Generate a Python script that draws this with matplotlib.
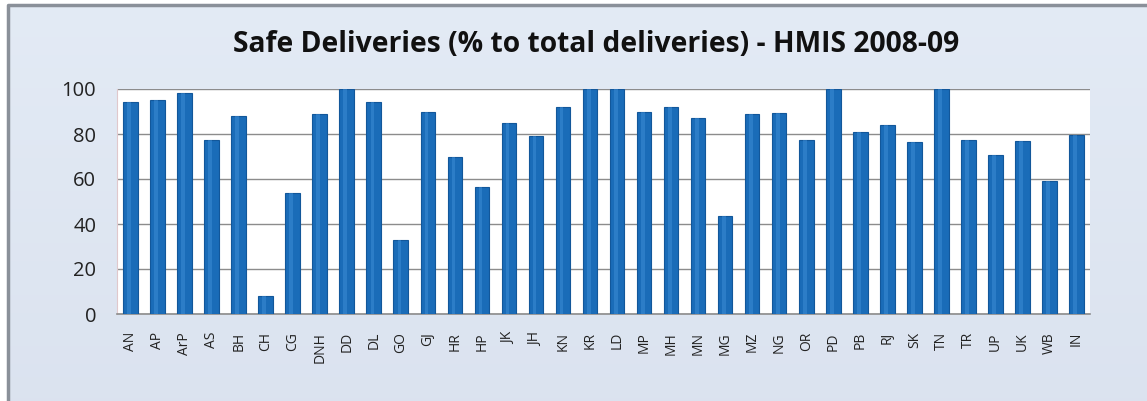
import matplotlib
matplotlib.use("Agg")
import matplotlib.pyplot as plt
import numpy as np

categories = ["AN", "AP", "ArP", "AS", "BH", "CH", "CG", "DNH", "DD", "DL", "GO", "GJ",
              "HR", "HP", "JK", "JH", "KN", "KR", "LD", "MP", "MH", "MN", "MG", "MZ",
              "NG", "OR", "PD", "PB", "RJ", "SK", "TN", "TR", "UP", "UK", "WB", "IN"]
values = [94.4, 95.0, 98.1, 77.3, 88.1, 8.0, 53.9, 88.7, 100.0, 94.4, 33.0, 89.6,
          69.6, 56.6, 84.7, 79.3, 92.1, 100.0, 100.0, 89.6, 92.1, 87.0, 43.7, 88.7,
          89.2, 77.2, 100.0, 81.0, 84.1, 76.6, 100.0, 77.2, 70.7, 76.7, 59.3, 79.7]
yticks = [0, 20, 40, 60, 80, 100]
title = "Safe Deliveries (% to total deliveries) - HMIS 2008-09"

W, H = 1147, 401
fig = plt.figure(figsize=(W / 100, H / 100), dpi=100)
fig.patch.set_facecolor("#ffffff")

# chart-area background and frame
bg = fig.add_axes([0, 0, 1, 1], zorder=-5)
bg.set_xlim(0, W)
bg.set_ylim(H, 0)
bg.axis("off")
g = np.linspace(0, 1, 256).reshape(-1, 1, 1)
img = np.concatenate([0.89 - 0.03 * g, 0.92 - 0.03 * g, 0.96 - 0.02 * g], axis=2)
img = np.repeat(img, 2, axis=1)
bg.imshow(img, extent=[8, W, H, 5], aspect="auto", zorder=0, interpolation="bilinear")
bg.plot([8, 8, W], [H, 5, 5], color="#8a9099", lw=2.5, zorder=2)

left, right, top, bottom = 117, 1090, 89, 314
ax = fig.add_axes([left / W, 1 - bottom / H, (right - left) / W, (bottom - top) / H])
ax.set_facecolor("white")
x = np.arange(len(categories))
ax.bar(x, values, width=0.54, color="#1a6cb8", edgecolor="#12579a", linewidth=0.8, zorder=3)
# subtle highlight for cylinder look
ax.bar(x - 0.05, values, width=0.14, color="#3f8ed6", linewidth=0, alpha=0.5, zorder=4)

ax.set_xlim(-0.5, len(categories) - 0.5)
ax.set_ylim(0, 100)
ax.set_yticks(yticks)
ax.set_yticklabels([str(v) for v in yticks], fontsize=14.5, family="Open Sans", color="#222222")
ax.set_xticks(x)
ax.set_xticklabels(categories, rotation=90, fontsize=10, family="Open Sans", color="#222222")
ax.tick_params(axis="both", length=0)
ax.tick_params(axis="y", pad=15)
ax.tick_params(axis="x", pad=13)
ax.yaxis.grid(True, color="#8c8c8c", linewidth=1.0, zorder=0)
ax.set_axisbelow(True)
for s in ["top", "right"]:
    ax.spines[s].set_visible(False)
ax.spines["left"].set_color("#e0c8cc")
ax.spines["bottom"].set_color("#8c8c8c")
ax.spines["bottom"].set_linewidth(1.2)

fig.text(596 / W, 1 - 45 / H, title, ha="center", va="center", fontsize=20.3,
         fontweight="bold", family="Open Sans", color="#111111")

fig.savefig("out.png", dpi=100)
